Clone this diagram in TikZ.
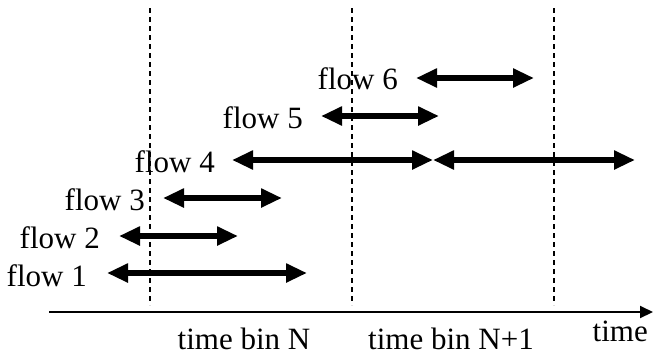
\documentclass[tikz,border=0pt]{standalone}
\usepackage{fontspec}
\setmainfont{Liberation Serif}
\usetikzlibrary{arrows.meta}
\begin{document}
\begin{tikzpicture}[x=1pt,y=-1pt,
  lbl/.style={inner sep=0pt,anchor=base east,font=\fontsize{31}{36}\selectfont},
  blbl/.style={inner sep=0pt,anchor=base,font=\fontsize{31}{36}\selectfont},
  flowarrow/.style={line width=6pt,{Triangle[length=21pt,width=18pt]}-{Triangle[length=21pt,width=18pt]}},
  binline/.style={line width=1.3pt,dash pattern=on 5pt off 4pt},
  axis/.style={line width=2pt,-{Triangle[length=13pt,width=12pt]}}]
\useasboundingbox (0,0) rectangle (653,357);
% time bin boundaries
\coordinate (d1t) at (150,8);   \coordinate (d1b) at (150,305);
\coordinate (d2t) at (352,8);   \coordinate (d2b) at (352,305);
\coordinate (d3t) at (554,8);   \coordinate (d3b) at (554,305);
\draw[binline] (d1t) -- (d1b);
\draw[binline] (d2t) -- (d2b);
\draw[binline] (d3t) -- (d3b);
% axis
\coordinate (ax0) at (49,312);
\coordinate (ax1) at (653,312);
\draw[axis] (ax0) -- (ax1);
% flows
\coordinate (f1a) at (107,273); \coordinate (f1b) at (307,273);
\coordinate (f2a) at (119,236); \coordinate (f2b) at (238,236);
\coordinate (f3a) at (163,198); \coordinate (f3b) at (282,198);
\coordinate (f4a) at (232,160); \coordinate (f4b) at (433,160); \coordinate (f4c) at (635,160);
\coordinate (f5a) at (321,116); \coordinate (f5b) at (439,116);
\coordinate (f6a) at (416,78);  \coordinate (f6b) at (534,78);
\draw[flowarrow] (f1a) -- (f1b);
\draw[flowarrow] (f2a) -- (f2b);
\draw[flowarrow] (f3a) -- (f3b);
\draw[flowarrow] (f4a) -- (f4b);
\draw[flowarrow] (f4b) -- (f4c);
\draw[flowarrow] (f5a) -- (f5b);
\draw[flowarrow] (f6a) -- (f6b);
% labels
\node[lbl] (l1) at (87,286) {flow 1};
\node[lbl] (l2) at (100,248) {flow 2};
\node[lbl] (l3) at (145,210) {flow 3};
\node[lbl] (l4) at (215,172) {flow 4};
\node[lbl] (l5) at (303,128) {flow 5};
\node[lbl] (l6) at (398,89) {flow 6};
\node[blbl] (bN) at (244,349) {time bin N};
\node[blbl] (bN1) at (451,349) {time bin N+1};
\node[lbl] (tm) at (648,341) {time};
\end{tikzpicture}
\end{document}
